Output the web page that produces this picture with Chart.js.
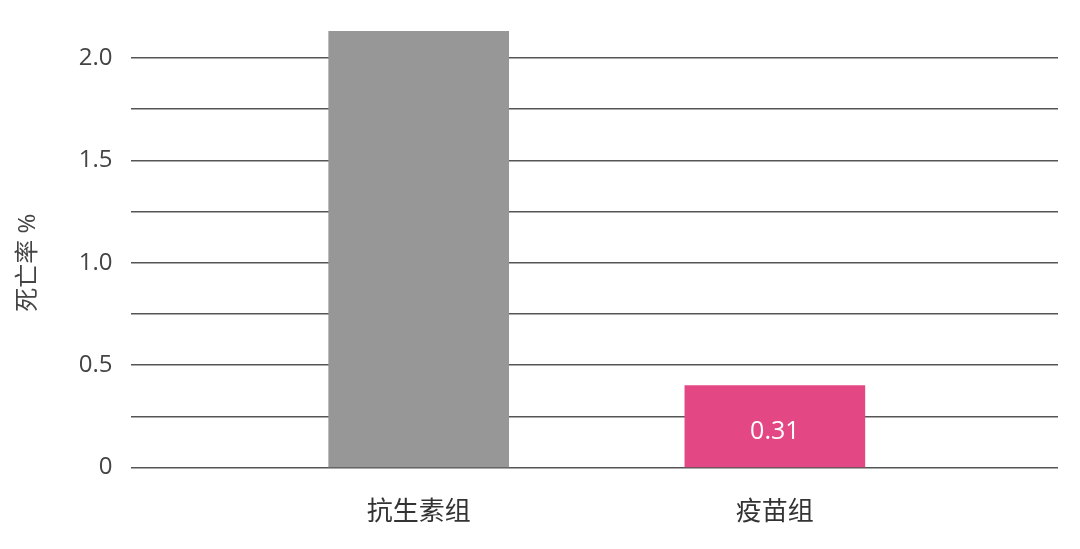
<!DOCTYPE html>
<html>
<head>
<meta charset="utf-8">
<script src="https://cdn.jsdelivr.net/npm/chart.js@4"></script>
<style>
  html, body { margin: 0; padding: 0; background: #fff; }
  #wrap { width: 1080px; height: 549px; }
</style>
</head>
<body>
<div id="wrap"><canvas id="chart"></canvas></div>
<script>
const groups = ["抗生素组", "疫苗组"];
const mortality = [2.13, 0.40];
const shownLabels = ["", "0.31"];
const barColors = ["#979797", "#e44884"];
const yTicks = [0, 0.5, 1.0, 1.5, 2.0];

const FONT = '"Open Sans", "Noto Sans CJK SC", sans-serif';

// writes the value text inside the bars, a little below the middle
const barText = {
  id: "barText",
  afterDatasetsDraw(chart) {
    const { ctx } = chart;
    const meta = chart.getDatasetMeta(0);
    ctx.save();
    ctx.fillStyle = "#fff";
    ctx.font = "25px " + FONT;
    ctx.textAlign = "center";
    ctx.textBaseline = "middle";
    meta.data.forEach((bar, i) => {
      if (!shownLabels[i]) return;
      const mid = (bar.y + bar.base) / 2 + 6;
      ctx.fillText(shownLabels[i], bar.x, mid);
    });
    ctx.restore();
  },
};

new Chart(document.getElementById("chart"), {
  type: "bar",
  data: {
    datasets: [{
      data: mortality.map((v, i) => ({ x: i, y: v })),
      backgroundColor: barColors,
      barThickness: 180,
      clip: false,
    }],
  },
  options: {
    responsive: true,
    maintainAspectRatio: false,
    animation: false,
    layout: { padding: { top: 58, right: 22, bottom: 0, left: 10 } },
    plugins: { legend: { display: false }, tooltip: { enabled: false } },
    scales: {
      x: {
        type: "linear",
        offset: false,
        min: -0.809,
        max: 1.795,
        grid: { display: false },
        border: { display: false },
        afterBuildTicks: (axis) => {
          axis.ticks = groups.map((_, i) => ({ value: i }));
        },
        ticks: {
          autoSkip: false,
          maxRotation: 0,
          padding: 25,
          color: "#333",
          font: { family: FONT, size: 26, lineHeight: 0.9 },
          callback: (v) => groups[v] ?? "",
        },
      },
      y: {
        min: 0,
        max: 2.0,
        grid: { color: "#555", lineWidth: 1.5, drawTicks: false },
        border: { display: false },
        ticks: {
          stepSize: 0.25,
          padding: 18,
          color: "#444",
          font: { family: FONT, size: 24 },
          callback: (v) => {
            if (!yTicks.some((t) => Math.abs(t - v) < 1e-9)) return "";
            return v === 0 ? "0" : v.toFixed(1);
          },
        },
        title: {
          display: true,
          text: "死亡率 %",
          color: "#444",
          font: { family: FONT, size: 24 },
          padding: { bottom: 18 },
        },
      },
    },
  },
  plugins: [barText],
});
</script>
</body>
</html>
